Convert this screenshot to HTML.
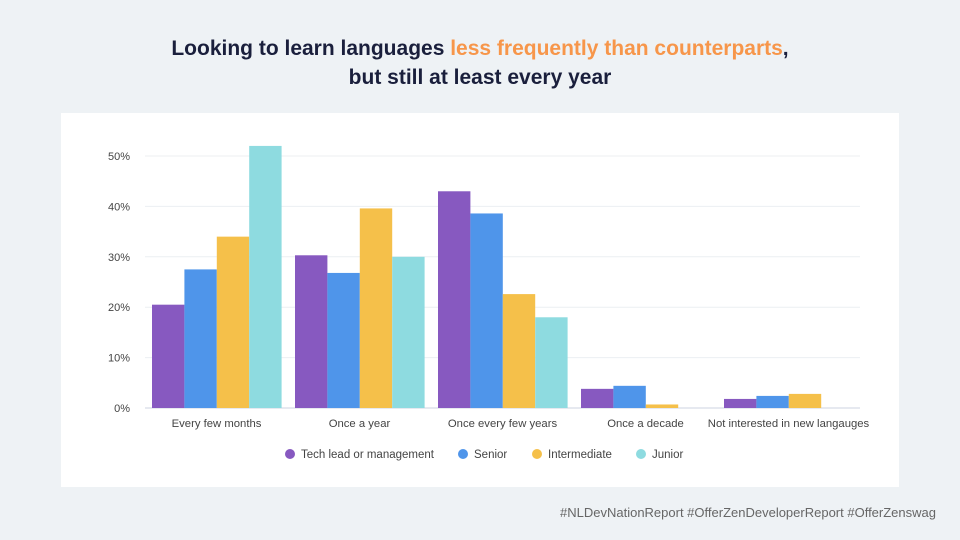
<!DOCTYPE html>
<html><head><meta charset="utf-8"><style>
body{margin:0;width:960px;height:540px;background:#eef2f5;font-family:"Liberation Sans",sans-serif;position:relative;overflow:hidden}
#title{position:absolute;top:34px;left:0;width:960px;text-align:center;font-weight:bold;font-size:21px;line-height:29px;color:#1a1f3c}
#title span{color:#f7964a}
#card{position:absolute;left:61px;top:113px;width:838px;height:374px;background:#fff}
#foot{position:absolute;right:24px;top:505px;font-size:13px;color:#666}
</style></head><body>
<div id="title">Looking to learn languages <span>less frequently than counterparts</span>,<br>but still at least every year</div>
<div id="card"></div>
<svg id="chart" width="960" height="540" style="position:absolute;left:0;top:0"></svg>
<div id="foot">#NLDevNationReport #OfferZenDeveloperReport #OfferZenswag</div>
<script>
const categories=["Every few months","Once a year","Once every few years","Once a decade","Not interested in new langauges"];
const seriesNames=["Tech lead or management","Senior","Intermediate","Junior"];
const techLead=[20.5,30.3,43,3.8,1.8];
const senior=[27.5,26.8,38.6,4.4,2.4];
const intermediate=[34,39.6,22.6,0.7,2.8];
const junior=[52,30,18,0,0];
const ticks=[0,10,20,30,40,50];
const series=[techLead,senior,intermediate,junior];
const colors=["#8759c0","#4f95ea","#f5c04a","#8edbe0"];
const NS="http://www.w3.org/2000/svg";
const svg=document.getElementById('chart');
const x0=145,x1=860,y0=408,pxPer=5.04;
const y=v=>y0-v*pxPer;
const gw=(x1-x0)/categories.length;
function mk(t,a){const e=document.createElementNS(NS,t);for(const k in a)e.setAttribute(k,a[k]);svg.appendChild(e);return e;}
ticks.forEach(t=>{
 const l=mk('line',{x1:x0,x2:x1,y1:y(t),y2:y(t),stroke:t===0?'#ccd3e0':'#eceff2','stroke-width':1});
 
 
 const tx=mk('text',{x:130,y:y(t)+4,'text-anchor':'end','font-size':11,fill:'#444'});
 tx.textContent=t+'%';
 
 
});
const bw=32.4;
categories.forEach((c,i)=>{
 const start=x0+i*gw+7;
 series.forEach((s,j)=>{
  const v=s[i];
  const r=mk('rect',{x:start+j*bw,y:y(v),width:bw,height:v*pxPer,fill:colors[j]});
  
  
 });
 const tx=mk('text',{x:x0+i*gw+gw/2,y:427,'text-anchor':'middle','font-size':11.3,fill:'#444'});
 tx.textContent=c;
 
 
});
const lx=[290,463,537,641];
seriesNames.forEach((n,j)=>{
 const c=mk('circle',{cx:lx[j],cy:454,r:5,fill:colors[j]});
 
 
 const t=mk('text',{x:lx[j]+11,y:458,'font-size':11.5,fill:'#444'});
 t.textContent=n;
 
 
});
</script>
</body></html>
